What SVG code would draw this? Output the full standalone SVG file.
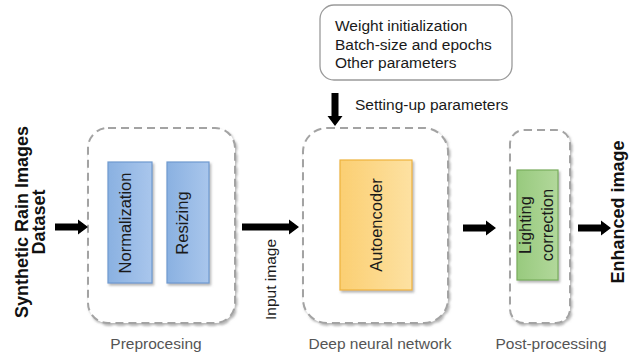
<svg xmlns="http://www.w3.org/2000/svg" width="629" height="356" viewBox="0 0 629 356">
  <defs>
    <filter id="soft" x="-10%" y="-10%" width="125%" height="125%">
      <feDropShadow dx="1.5" dy="2" stdDeviation="1.2" flood-color="#7a7a7a" flood-opacity="0.55"/>
    </filter>
    <linearGradient id="blue" x1="0" y1="0" x2="1" y2="0">
      <stop offset="0" stop-color="#8ab1e1"/>
      <stop offset="1" stop-color="#a9c6ec"/>
    </linearGradient>
    <linearGradient id="orange" x1="0" y1="0" x2="1" y2="0">
      <stop offset="0" stop-color="#fbcf72"/>
      <stop offset="1" stop-color="#fde1a2"/>
    </linearGradient>
    <linearGradient id="green" x1="0" y1="0" x2="1" y2="0">
      <stop offset="0" stop-color="#98ca7e"/>
      <stop offset="1" stop-color="#b2d89b"/>
    </linearGradient>
  </defs>
  <style>
    text { font-family: "Liberation Sans", Arial, sans-serif; }
    .group { fill: #ffffff; stroke: #a3a3a3; stroke-width: 2; stroke-dasharray: 8 5; filter: url(#soft); }
    .block { stroke-width: 1.2; filter: url(#soft); }
    .lbl { font-size: 16.5px; fill: #1a1a1a; text-anchor: middle; }
    .cap { font-size: 15.5px; fill: #555555; text-anchor: middle; }
    .note { font-size: 15.5px; fill: #1a1a1a; }
    .big { font-size: 18px; font-weight: bold; fill: #111111; text-anchor: middle; }
    .arrow { fill: #000000; }
  </style>

  <rect width="629" height="356" fill="#ffffff"/>

  <!-- training parameters -->
  <g id="params">
    <rect x="320" y="5" width="192" height="75" rx="14" fill="#ffffff" stroke="#9a9a9a" stroke-width="1.3"/>
    <text class="note" x="335" y="31">Weight initialization</text>
    <text class="note" x="335" y="49.5">Batch-size and epochs</text>
    <text class="note" x="335" y="68">Other parameters</text>
  </g>

  <!-- dataset input -->
  <g id="dataset">
    <text class="big" transform="translate(28,222) rotate(-90)">Synthetic Rain Images</text>
    <text class="big" transform="translate(45,222) rotate(-90)">Dataset</text>
  </g>

  <!-- preprocessing stage -->
  <g id="preprocessing">
    <rect class="group" x="88" y="128" width="147" height="195" rx="20"/>
    <rect class="block" x="108" y="162" width="44" height="121" fill="url(#blue)" stroke="#6f9ad0"/>
    <rect class="block" x="167" y="162" width="42" height="121" fill="url(#blue)" stroke="#6f9ad0"/>
    <text class="lbl" transform="translate(131,223) rotate(-90)">Normalization</text>
    <text class="lbl" transform="translate(188,223) rotate(-90)">Resizing</text>
    <text class="cap" x="156" y="349">Preprocesing</text>
  </g>

  <!-- deep neural network stage -->
  <g id="network">
    <rect class="group" x="303" y="128" width="145" height="195" rx="24"/>
    <rect class="block" x="340" y="160" width="72" height="130" fill="url(#orange)" stroke="#eeb33c"/>
    <text class="lbl" transform="translate(382,225) rotate(-90)">Autoencoder</text>
    <text class="cap" x="380" y="349">Deep neural network</text>
  </g>

  <!-- post-processing stage -->
  <g id="postprocessing">
    <rect class="group" x="510" y="130" width="60" height="193" rx="14"/>
    <rect class="block" x="517" y="170" width="41" height="110" fill="url(#green)" stroke="#79ad5c"/>
    <text class="lbl" transform="translate(531,225) rotate(-90)">Lighting</text>
    <text class="lbl" transform="translate(553,225) rotate(-90)">correction</text>
    <text class="cap" x="551" y="349">Post-processing</text>
  </g>

  <!-- output -->
  <g id="output">
    <text class="big" transform="translate(624,212) rotate(-90)">Enhanced image</text>
  </g>

  <!-- connectors -->
  <g id="connectors">
    <path class="arrow" d="M55,223.5 H78 V219.5 L88,227 L78,234.5 V230.5 H55 Z"/>
    <path class="arrow" d="M242,223.5 H289 V219.5 L299,227 L289,234.5 V230.5 H242 Z"/>
    <path class="arrow" d="M463,224.5 H486 V220.5 L496,228 L486,235.5 V231.5 H463 Z"/>
    <path class="arrow" d="M578,224.5 H601 V220.5 L611,228 L601,235.5 V231.5 H578 Z"/>
    <path class="arrow" d="M331.5,93 V116 H327.5 L335,126 L342.5,116 H338.5 V93 Z"/>
    <text class="note" x="355" y="110" fill="#333333">Setting-up parameters</text>
    <text class="note" text-anchor="start" transform="translate(276,320) rotate(-90)" fill="#333333">Input image</text>
  </g>
</svg>
